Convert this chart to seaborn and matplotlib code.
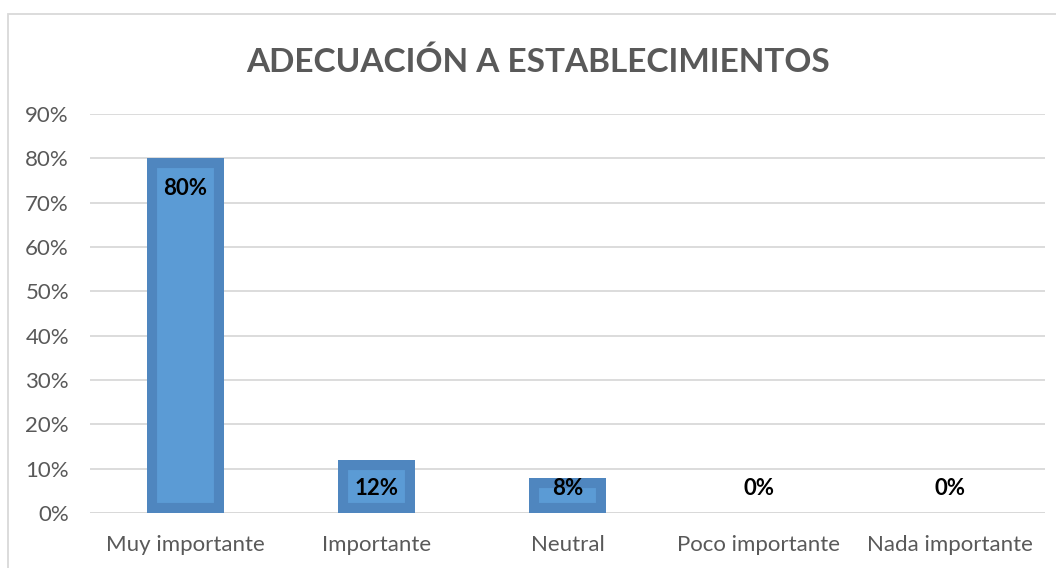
import matplotlib
matplotlib.use('Agg')
import matplotlib.pyplot as plt
import seaborn as sns
import pandas as pd
from matplotlib.patches import Rectangle
from matplotlib.ticker import PercentFormatter

# data
categories = ['Muy importante', 'Importante', 'Neutral', 'Poco importante', 'Nada importante']
values = [0.80, 0.12, 0.08, 0.0, 0.0]
labels = ['80%', '12%', '8%', '0%', '0%']

df = pd.DataFrame({'cat': categories, 'val': values})

sns.set_style('white')
plt.rcParams['font.family'] = ['Lato', 'DejaVu Sans']

fig = plt.figure(figsize=(10.56, 5.68), dpi=100)
ax = fig.add_axes([0.085, 0.0968, 0.905, 0.7025])

sns.barplot(data=df, x='cat', y='val', color='#5b9bd5', width=0.4,
            edgecolor='#4f86bf', linewidth=14.5, saturation=1, ax=ax)
# keep the thick border inside each bar
for p in ax.patches:
    p.set_clip_path(p)

ax.set_ylim(0, 0.9)
ax.set_xlim(-0.5, 4.5)
ax.set_yticks([i / 10 for i in range(10)])
ax.yaxis.set_major_formatter(PercentFormatter(1.0, decimals=0))
ax.grid(axis='y', color='#d9d9d9', linewidth=1.3)
ax.set_axisbelow(True)
for s in ax.spines.values():
    s.set_visible(False)
ax.axhline(0, color='#d9d9d9', linewidth=1.3, zorder=0.5)
ax.set_xlabel('')
ax.set_ylabel('')
ax.tick_params(axis='both', length=0, labelsize=16, labelcolor='#595959')
ax.tick_params(axis='x', pad=16)
ax.tick_params(axis='y', pad=15)

# value labels (inside end, with a floor near the base)
for i, (v, t) in enumerate(zip(values, labels)):
    ax.text(i, max(v - 0.067, 0.056), t, ha='center', va='center',
            fontsize=16, fontweight='bold', color='black')

fig.text(0.51, 0.892, 'ADECUACIÓN A ESTABLECIMIENTOS', ha='center', va='center',
         fontsize=24, fontweight='bold', color='#595959')

fig.patches.append(Rectangle((8 / 1056, -0.1), 1.2, 1 - 14 / 568 + 0.1,
                             transform=fig.transFigure, fill=False,
                             edgecolor='#d9d9d9', linewidth=1.3))

fig.savefig('out.png', dpi=100)
